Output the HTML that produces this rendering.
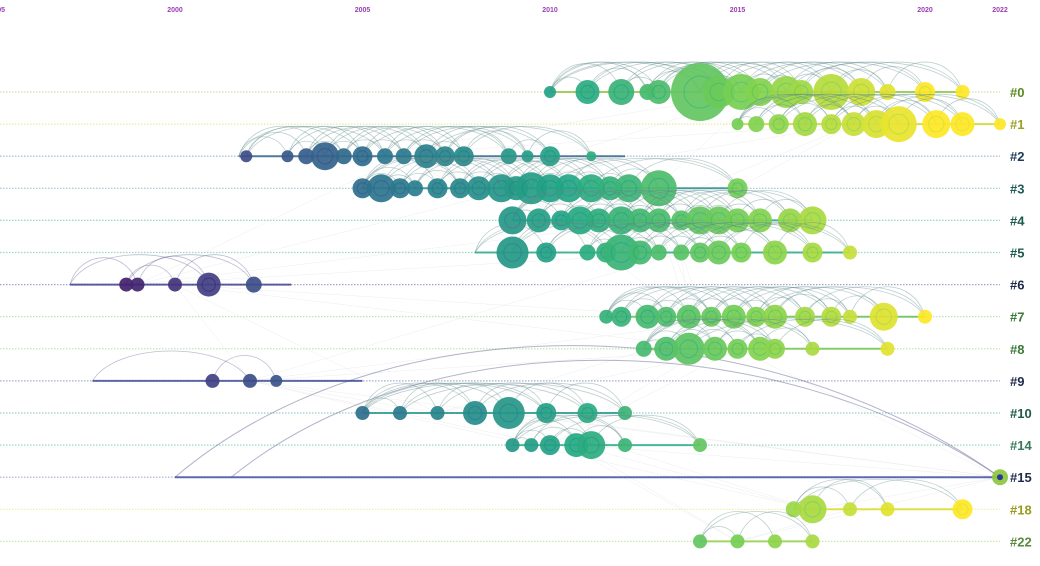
<!DOCTYPE html>
<html><head><meta charset="utf-8">
<style>
html,body{margin:0;padding:0;background:#fff;width:1040px;height:566px;overflow:hidden}
svg{display:block}
</style></head>
<body>
<svg id="chart" width="1040" height="566" xmlns="http://www.w3.org/2000/svg" font-family="Liberation Sans, sans-serif"></svg>
<script>
const axisYears = [1995, 2000, 2005, 2010, 2015, 2020, 2022];
const clusterLabels = ['#0','#1','#2','#3','#4','#5','#6','#7','#8','#9','#10','#14','#15','#18','#22'];
const clusterSpanStart = [2010.0, 2015.0, 2001.7, 2005.0, 2009.0, 2008.0, 1997.2, 2011.5, 2012.5, 1997.8, 2005.0, 2009.0, 2000.0, 2016.5, 2014.0];
const clusterSpanEnd = [2021.0, 2022.0, 2012.0, 2015.0, 2017.0, 2018.0, 2003.1, 2020.0, 2019.0, 2005.0, 2012.0, 2014.0, 2022.0, 2021.0, 2017.0];
const nodeYears = [
 [2010.0,2011.0,2011.9,2012.6,2012.9,2014.0,2014.5,2015.1,2015.6,2016.3,2016.7,2017.5,2018.3,2019.0,2020.0,2021.0],
 [2015.0,2015.5,2016.1,2016.8,2017.5,2018.1,2018.7,2019.3,2020.3,2021.0,2022.0],
 [2001.9,2003.0,2003.5,2004.0,2004.5,2005.0,2005.6,2006.1,2006.7,2007.2,2007.7,2008.9,2009.4,2010.0,2011.1],
 [2005.0,2005.5,2006.0,2006.4,2007.0,2007.6,2008.1,2008.7,2009.1,2009.5,2010.0,2010.5,2011.1,2011.6,2012.1,2012.9,2015.0],
 [2009.0,2009.7,2010.3,2010.8,2011.3,2011.9,2012.4,2012.9,2013.5,2014.0,2014.5,2015.0,2015.6,2016.4,2017.0],
 [2009.0,2009.9,2011.0,2011.5,2011.9,2012.4,2012.9,2013.5,2014.0,2014.5,2015.1,2016.0,2017.0,2018.0],
 [1998.7,1999.0,2000.0,2000.9,2002.1],
 [2011.5,2011.9,2012.6,2013.1,2013.7,2014.3,2014.9,2015.5,2016.0,2016.8,2017.5,2018.0,2018.9,2020.0],
 [2012.5,2013.1,2013.7,2014.4,2015.0,2015.6,2016.0,2017.0,2019.0],
 [2001.0,2002.0,2002.7],
 [2005.0,2006.0,2007.0,2008.0,2008.9,2009.9,2011.0,2012.0],
 [2009.0,2009.5,2010.0,2010.7,2011.1,2012.0,2014.0],
 [2022.0],
 [2016.5,2017.0,2018.0,2019.0,2021.0],
 [2014.0,2015.0,2016.0,2017.0]
];
const nodeSizes = [
 [6,12,13,8,12,29,16,18,14,16,12,18,14,8,10,7],
 [6,8,10,12,10,12,14,18,14,12,6],
 [6,6,8,14,8,10,8,8,12,10,10,8,6,10,5],
 [10,14,10,8,10,10,12,14,12,16,14,14,14,12,14,18,10],
 [14,12,10,14,12,14,12,12,10,14,14,12,12,12,14],
 [16,10,8,10,18,12,8,8,10,12,10,12,10,7],
 [7,7,7,12,8],
 [7,10,12,10,12,10,12,10,12,10,10,7,14,7],
 [8,12,16,12,10,12,10,7,7],
 [7,7,6],
 [7,7,7,12,16,10,10,7],
 [7,7,10,12,14,7,7],
 [8],
 [8,14,7,7,10],
 [7,7,7,7]
];
const rowColors = ['#8cc63f','#c8d82a','#2b5f8a','#1f8a8a','#20a085','#25a880','#3a3a8c','#5fbf50','#6fc248','#3a4890','#1e9488','#22a884','#3a4ca0','#d8dc20','#8ccf40'];
const labelColors = ['#5a8a20','#9aa020','#1e3a5a','#1e5a5a','#1e5a4a','#1e5a4a','#1e2a4a','#3a7a3a','#3a7a3a','#1e2a4a','#1e5a4a','#3a7a5a','#1e2a4a','#9a9a20','#5a8a40'];

const svg = document.getElementById('chart');
const NS = 'http://www.w3.org/2000/svg';
const xScale = y => 175 + (y - 2000) * 37.5;
const rowY = i => 92 + i * 32.1;
const vir = [[68,1,84],[65,68,135],[42,120,142],[34,168,132],[122,209,81],[253,231,37]];
function viridis(t){t=Math.max(0,Math.min(1,t));const p=t*(vir.length-1);const i=Math.min(vir.length-2,Math.floor(p));const f=p-i;const c=vir[i].map((v,k)=>Math.round(v+(vir[i+1][k]-v)*f));return `rgb(${c[0]},${c[1]},${c[2]})`;}
const yearColor = y => viridis((y - 1996.5) / 23.5);
function mk(tag, attrs, parent){const e=document.createElementNS(NS,tag);for(const k in attrs)e.setAttribute(k,attrs[k]);(parent||svg).appendChild(e);return e;}

axisYears.forEach(y=>{
  const first = y===1995;
  const t = mk('text',{x:first?5:xScale(y),y:12,'font-size':7,'font-weight':'bold',fill:'#9a3fb0','text-anchor':first?'end':'middle'});
  
  
  t.textContent = String(y);
});

clusterLabels.forEach((lab,i)=>{
  const yy = rowY(i);
  const l = mk('line',{x1:0,x2:1000,y1:yy,y2:yy,stroke:rowColors[i],'stroke-width':1.2,'stroke-dasharray':'1.5 1.5',opacity:0.45});
  
  
  const t = mk('text',{x:1010,y:yy+5,'font-size':13,'font-weight':'bold',fill:labelColors[i]});
  
  
  t.textContent = lab;
});

const gLinks = mk('g',{stroke:'#ccc','stroke-width':0.5,opacity:0.35,fill:'none'});


for(let i=0;i<nodeYears.length;i++){for(let j=i+1;j<nodeYears.length;j++){
  if(Math.abs(i-j)>4)continue;
  const a=nodeYears[i][Math.floor(nodeYears[i].length/2)], b=nodeYears[j][Math.floor(nodeYears[j].length/3)];
  mk('line',{x1:xScale(a),y1:rowY(i),x2:xScale(b),y2:rowY(j)},gLinks);
}}

[[2000,2022,135],[2001.5,2022,120]].forEach((a,k)=>{
  const x1=xScale(a[0]),x2=xScale(a[1]),yy=rowY(12);
  const p = mk('path',{d:`M${x1},${yy} C${x1+ (x2-x1)*0.25},${yy-a[2]*1.3} ${x1+(x2-x1)*0.7},${yy-a[2]*1.3} ${x2},${yy}`,fill:'none',stroke:'#6a6a9a','stroke-width':1,opacity:0.5});
  
  
});

nodeYears.forEach((ys,i)=>{
  const g = mk('g',{});
  
  
  const yy=rowY(i);
  const s=clusterSpanStart[i], e=clusterSpanEnd[i];
  const pts=[s,...ys];
  for(let a=0;a<pts.length;a++){for(const step of [2,4,6]){
    const b=a+step; if(b>=pts.length) continue;
    const x1=xScale(pts[a]),x2=xScale(pts[b]);const h=Math.min((x2-x1)*0.4,30);
    const p=mk('path',{d:`M${x1},${yy} C${x1+(x2-x1)*0.15},${yy-h*1.33} ${x2-(x2-x1)*0.15},${yy-h*1.33} ${x2},${yy}`,fill:'none',stroke:i===6||i===9||i===12?'#5a5a90':'#5f8a8a','stroke-width':0.8,opacity:0.4},g);
    
    
  }}
  const ln = mk('line',{x1:xScale(s),x2:xScale(Math.max(e,ys[ys.length-1])),y1:yy,y2:yy,stroke:rowColors[i],'stroke-width':2,opacity:0.8},g);
  
  
  ys.forEach((y,k)=>{
    const r=nodeSizes[i][k];const col=i===12?'#8cc63f':yearColor(y);
    const c=mk('circle',{cx:xScale(y),cy:yy,r:r,fill:col,opacity:0.92},g);
    
    
    if(r>9){const c2=mk('circle',{cx:xScale(y),cy:yy,r:r*0.55,fill:'none',stroke:yearColor(y-2),'stroke-width':1.2,opacity:0.6},g);
      
      }
    if(i===12){const c3=mk('circle',{cx:xScale(y),cy:yy,r:3,fill:'#2a3a90'},g);
      
      }
  });
});
</script>
</body></html>
